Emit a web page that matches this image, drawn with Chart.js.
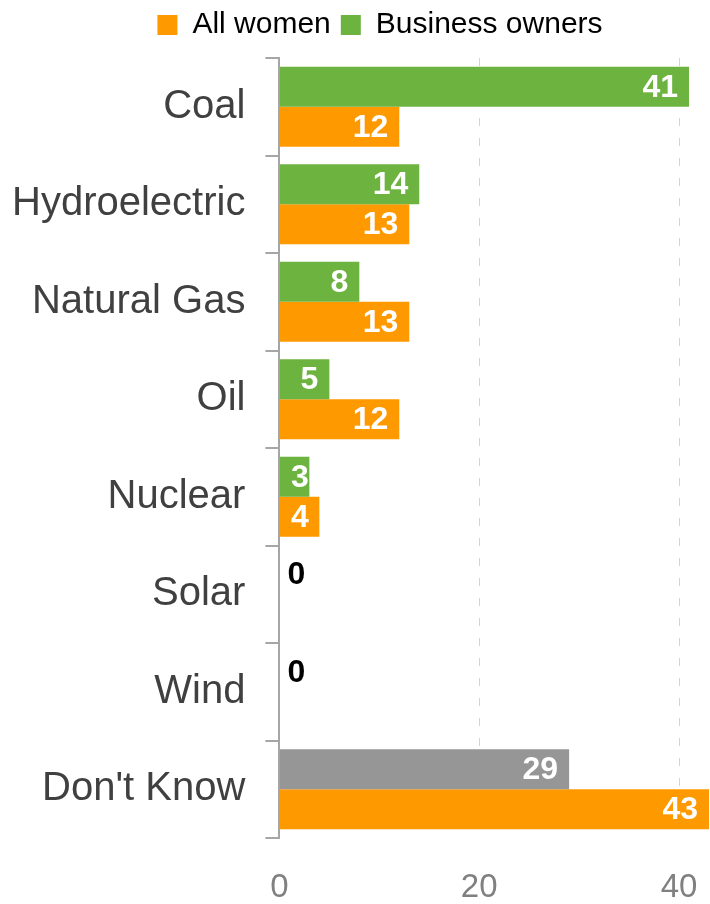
<!DOCTYPE html>
<html>
<head>
<meta charset="utf-8">
<script src="https://cdn.jsdelivr.net/npm/chart.js@4/dist/chart.umd.min.js"></script>
<style>
html,body{margin:0;padding:0;background:#fff;}
#wrap{width:710px;height:904px;}
</style>
</head>
<body>
<div id="wrap"><canvas id="c" width="710" height="904"></canvas></div>
<script>
const categories = ["Coal", "Hydroelectric", "Natural Gas", "Oil", "Nuclear", "Solar", "Wind", "Don't Know"];
const businessOwners = [41, 14, 8, 5, 3, 0, 0, 29];
const allWomen = [12, 13, 13, 12, 4, null, null, 43];
const xTicks = [0, 20, 40];

const GREEN = '#6db33f', ORANGE = '#ff9900', GRAY = '#969696';
const FONT = "'Liberation Sans', Arial, sans-serif";

const valueLabels = {
  id: 'valueLabels',
  afterDatasetsDraw(chart) {
    const ctx = chart.ctx;
    ctx.save();
    ctx.font = 'bold 32px ' + FONT;
    ctx.textBaseline = 'middle';
    chart.data.datasets.forEach((ds, di) => {
      const meta = chart.getDatasetMeta(di);
      meta.data.forEach((el, i) => {
        const v = ds.data[i];
        if (v === null || v === undefined) return;
        const txt = String(v);
        if (v === 0) {
          ctx.fillStyle = '#000';
          ctx.textAlign = 'left';
          ctx.fillText(txt, el.base + 8, el.y + 1);
        } else {
          const w = ctx.measureText(txt).width;
          ctx.fillStyle = '#fff';
          ctx.textAlign = 'right';
          const rx = Math.max(el.x - 11, el.base + 11 + w);
          ctx.fillText(txt, rx, el.y + 1);
        }
      });
    });
    ctx.restore();
  }
};

const shiftLegend = {
  id: 'shiftLegend',
  afterLayout(chart) {
    const lg = chart.legend;
    if (lg) { lg.left += 19; lg.right += 19; lg.top -= 8; lg.bottom -= 8; }
  }
};

new Chart(document.getElementById('c'), {
  type: 'bar',
  data: {
    labels: categories,
    datasets: [
      {
        label: 'Business owners',
        data: businessOwners,
        backgroundColor: businessOwners.map((v, i) => i === categories.length - 1 ? GRAY : GREEN),
        categoryPercentage: 0.82,
        barPercentage: 1.0
      },
      {
        label: 'All women',
        data: allWomen,
        backgroundColor: ORANGE,
        categoryPercentage: 0.82,
        barPercentage: 1.0
      }
    ]
  },
  options: {
    indexAxis: 'y',
    responsive: false,
    animation: false,
    layout: { padding: { left: 12, right: 0, top: 8, bottom: 0 } },
    plugins: {
      legend: {
        display: true,
        position: 'top',
        reverse: true,
        labels: {
          boxWidth: 20,
          boxHeight: 20,
          padding: 10,
          color: '#000',
          font: { family: FONT, size: 30 },
          generateLabels(chart) {
            return chart.data.datasets.map((ds, i) => ({
              text: ds.label,
              fillStyle: i === 0 ? GREEN : ORANGE,
              strokeStyle: 'transparent',
              lineWidth: 0,
              hidden: false,
              datasetIndex: i
            }));
          }
        }
      },
      tooltip: { enabled: false }
    },
    scales: {
      x: {
        min: 0,
        max: 43.1,
        afterBuildTicks(scale) { scale.ticks = xTicks.map(v => ({ value: v })); },
        afterFit(scale) { scale.paddingLeft = 0; scale.paddingRight = 0; scale.height = 66; },
        border: { display: false, dash: [8, 12] },
        grid: {
          drawTicks: false,
          color: ctx => (ctx.tick && ctx.tick.value === 0) ? 'rgba(0,0,0,0)' : '#d4d4d4',
          lineWidth: 1
        },
        ticks: {
          color: '#808080',
          padding: 33,
          font: { family: FONT, size: 33, lineHeight: 1 }
        }
      },
      y: {
        afterFit(scale) { scale.paddingTop = 0; scale.paddingBottom = 0; scale.width = scale.width - scale.options.ticks.padding; },
        border: { display: true, color: '#a6a6a6', width: 2 },
        grid: {
          offset: true,
          drawOnChartArea: false,
          drawTicks: true,
          tickLength: 14,
          color: '#a6a6a6',
          lineWidth: 2
        },
        ticks: {
          color: '#404040',
          padding: 20,
          font: { family: FONT, size: 40 }
        }
      }
    }
  },
  plugins: [valueLabels, shiftLegend]
});
</script>
</body>
</html>
